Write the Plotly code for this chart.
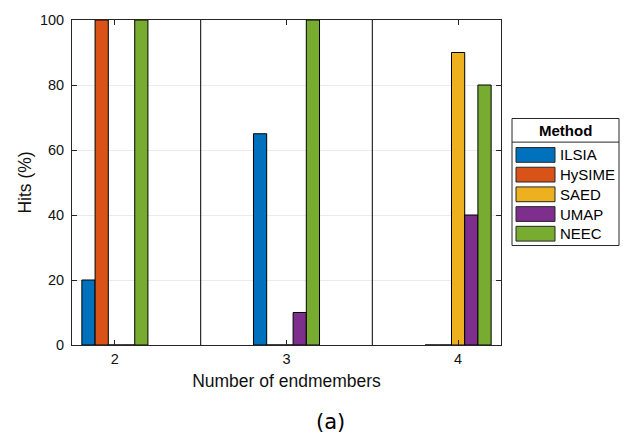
import plotly.graph_objects as go

# ---- data ----
categories = [2, 3, 4]
methods = ["ILSIA", "HySIME", "SAED", "UMAP", "NEEC"]
ilsia = [20, 65, 0]
hysime = [100, 0, 0]
saed = [0, 0, 90]
umap = [0, 10, 40]
neec = [100, 100, 80]
y_ticks = [0, 20, 40, 60, 80, 100]
x_label = "Number of endmembers"
y_label = "Hits (%)"
legend_title = "Method"
caption = "(a)"

series = [ilsia, hysime, saed, umap, neec]
colors = ["#0072BD", "#D95319", "#EDB120", "#7E2F8E", "#77AC30"]

# ---- geometry (pixels) ----
W, H = 625, 437
L, R, T, B = 72, 501, 15, 345
FONT = "Liberation Sans, Arial, Helvetica, sans-serif"
TXT = "#111111"


def pxx(x):
    return (x - L) / (R - L)


def pxy(y):
    return (B - y) / (B - T)


fig = go.Figure()
for name, vals, col in zip(methods, series, colors):
    fig.add_trace(go.Bar(
        x=categories, y=vals, name=name,
        marker=dict(color=col, line=dict(color="black", width=1)),
        showlegend=False,
    ))

shapes = []
# separators between category groups
for a, b in zip(categories[:-1], categories[1:]):
    m = (a + b) / 2
    shapes.append(dict(type="line", xref="x", yref="paper", x0=m, x1=m, y0=0, y1=1,
                       line=dict(color="black", width=1), layer="above"))

annotations = []
# custom legend (MATLAB-like)
lx0, lx1, ly0, ly1 = 512, 619, 115, 244
sep_y = 139
shapes.append(dict(type="rect", xref="paper", yref="paper",
                   x0=pxx(lx0), x1=pxx(lx1), y0=pxy(ly1), y1=pxy(ly0),
                   line=dict(color="#262626", width=1), fillcolor="white"))
shapes.append(dict(type="line", xref="paper", yref="paper",
                   x0=pxx(lx0), x1=pxx(lx1), y0=pxy(sep_y), y1=pxy(sep_y),
                   line=dict(color="#262626", width=1)))
annotations.append(dict(text="<b>" + legend_title + "</b>", xref="paper", yref="paper",
                        x=pxx((lx0 + lx1) / 2), y=pxy(127), showarrow=False,
                        xanchor="center", yanchor="middle",
                        font=dict(family=FONT, size=15, color="black")))
for i, (name, col) in enumerate(zip(methods, colors)):
    top = 144.5 + 20 * i
    shapes.append(dict(type="rect", xref="paper", yref="paper",
                       x0=pxx(516), x1=pxx(555), y0=pxy(top + 15), y1=pxy(top),
                       line=dict(color="#262626", width=1), fillcolor=col))
    annotations.append(dict(text=name, xref="paper", yref="paper",
                            x=pxx(558), y=pxy(top + 7.5), showarrow=False,
                            xanchor="left", yanchor="middle",
                            font=dict(family=FONT, size=15, color="black")))

annotations.append(dict(text=caption, xref="paper", yref="paper",
                        x=pxx(330), y=pxy(423), showarrow=False,
                        xanchor="center", yanchor="middle",
                        font=dict(family="DejaVu Sans, sans-serif", size=21, color="black")))

fig.update_layout(
    width=W, height=H,
    margin=dict(l=L, r=W - R, t=T, b=H - B, pad=0),
    plot_bgcolor="white", paper_bgcolor="white",
    barmode="group", bargap=0.615, bargroupgap=0,
    font=dict(family=FONT, color=TXT),
    shapes=shapes, annotations=annotations,
    xaxis=dict(
        range=[1.75, 4.25], tickvals=categories, ticktext=[str(c) for c in categories],
        ticks="inside", ticklen=5, tickcolor="#262626", showline=True, mirror="ticks",
        linecolor="#262626", linewidth=1, showgrid=False, zeroline=False,
        tickfont=dict(size=14.5, color=TXT), ticklabelstandoff=1,
        title=dict(text=x_label, font=dict(size=17.5, color=TXT), standoff=8),
    ),
    yaxis=dict(
        range=[0, 100], tickvals=y_ticks,
        ticks="inside", ticklen=5, tickcolor="#262626", showline=True, mirror="ticks",
        linecolor="#262626", linewidth=1, showgrid=True, gridcolor="#ebebeb", gridwidth=1,
        zeroline=False, tickfont=dict(size=14.5, color=TXT), ticklabelstandoff=4,
        title=dict(text=y_label, font=dict(size=17.5, color=TXT), standoff=3),
    ),
)

fig.write_html("out.html", config={"displayModeBar": False},
               post_script="document.body.style.margin='0';document.body.style.padding='0';")
